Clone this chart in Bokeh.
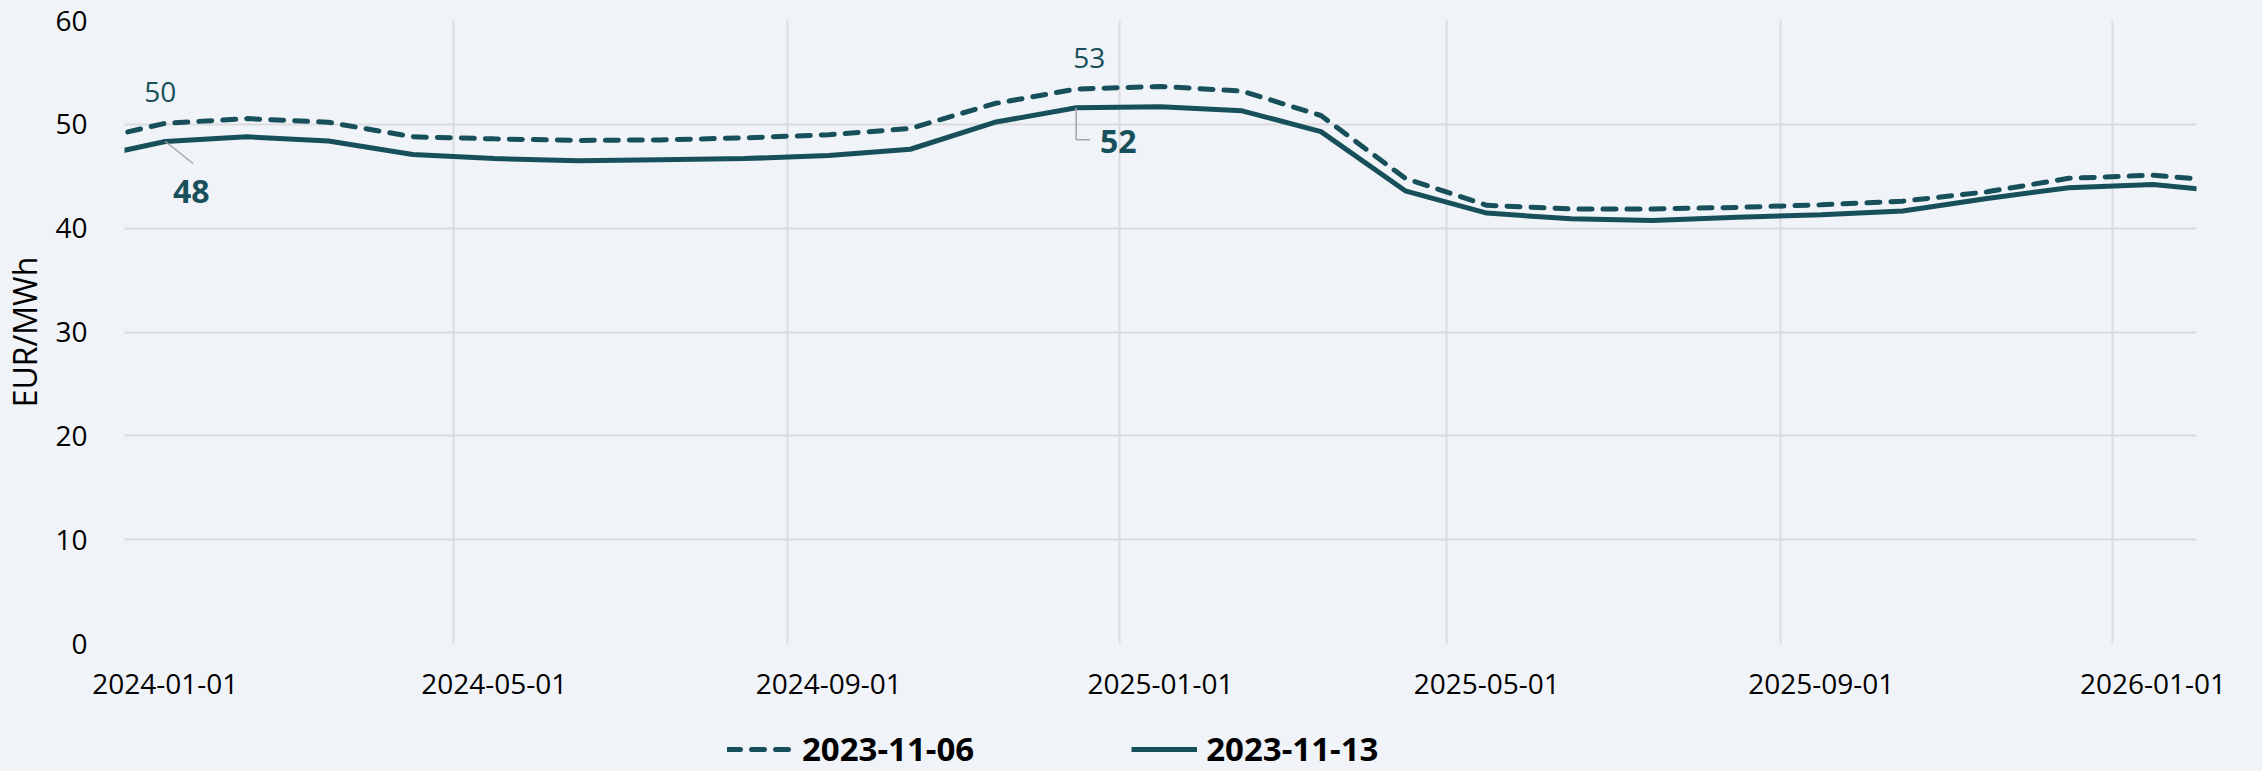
from datetime import datetime, timedelta
from bokeh.plotting import figure
from bokeh.layouts import column
from bokeh.models import Range1d, FixedTicker, Legend, LegendItem, ColumnDataSource
from bokeh.core.properties import value
from bokeh.embed import file_html
from bokeh.resources import INLINE

# ---------------- data ----------------
dates = ["2023-12-16", "2024-01-16", "2024-02-15", "2024-03-16", "2024-04-16", "2024-05-16",
         "2024-06-16", "2024-07-16", "2024-08-16", "2024-09-16", "2024-10-16", "2024-11-16",
         "2024-12-16", "2025-01-16", "2025-02-15", "2025-03-16", "2025-04-16", "2025-05-16",
         "2025-06-16", "2025-07-16", "2025-08-16", "2025-09-16", "2025-10-16", "2025-11-16",
         "2025-12-16", "2026-01-16", "2026-02-15"]
series_names = ["2023-11-06", "2023-11-13"]
values_1106 = [48.25, 50.1, 50.55, 50.2, 48.8, 48.6, 48.45, 48.5, 48.7, 49.0, 49.6, 52.0,
               53.4, 53.65, 53.2, 50.85, 44.8, 42.2, 41.85, 41.85, 42.0, 42.25, 42.6, 43.5,
               44.8, 45.1, 44.45]
values_1113 = [46.6, 48.35, 48.8, 48.4, 47.1, 46.7, 46.5, 46.6, 46.7, 47.0, 47.6, 50.2,
               51.6, 51.7, 51.3, 49.3, 43.6, 41.45, 40.9, 40.75, 41.05, 41.3, 41.65, 42.85,
               43.9, 44.2, 43.45]
tick_labels = ["2024-01-01", "2024-05-01", "2024-09-01", "2025-01-01", "2025-05-01",
               "2025-09-01", "2026-01-01"]
y_ticks = [0, 10, 20, 30, 40, 50, 60]
annot_idx = [1, 12]
x_start, x_end = "2024-01-01", "2026-02-01"
y_label = "EUR/MWh"

# ---------------- style ----------------
BG = "#F0F3F7"
TEAL = "#17505A"
GRID = "#D9DCDF"
FONT = "Open Sans"

W = 2246
H1, H2 = 708, 63
LEFT, RIGHT, TOP, BOTTOM = 112, 50, 20, 65
FW, FH = W - LEFT - RIGHT, H1 - TOP - BOTTOM

EPOCH = datetime(1970, 1, 1)
def to_dt(s):
    return datetime.strptime(s, "%Y-%m-%d")
def to_ms(d):
    return (d - EPOCH).total_seconds() * 1000.0

xs = [to_dt(d) for d in dates]
x0, x1 = to_dt(x_start), to_dt(x_end)
total_days = (x1 - x0).total_seconds() / 86400.0
px_per_day = FW / total_days
px_per_unit = FH / (y_ticks[-1] - y_ticks[0])

p = figure(width=W, height=H1, x_axis_type="datetime", output_backend="svg",
           toolbar_location=None, x_range=Range1d(x0, x1),
           y_range=Range1d(y_ticks[0], y_ticks[-1]),
           min_border_left=LEFT, min_border_right=RIGHT,
           min_border_top=TOP, min_border_bottom=BOTTOM)
p.background_fill_color = BG
p.border_fill_color = BG
p.outline_line_color = None

# grids at month starts, labels at mid-month
grid_ticks = [to_ms(to_dt(t)) for t in tick_labels]
label_ticks = [to_ms(to_dt(t) + timedelta(days=15)) for t in tick_labels]
p.xgrid.ticker = FixedTicker(ticks=grid_ticks)
p.xgrid.grid_line_color = GRID
p.xgrid.grid_line_width = 2
p.ygrid.ticker = FixedTicker(ticks=y_ticks)
p.ygrid.grid_line_color = GRID
p.ygrid.grid_line_width = 2

xa = p.xaxis[0]
xa.ticker = FixedTicker(ticks=label_ticks)
xa.major_label_overrides = {lt: lab for lt, lab in zip(label_ticks, tick_labels)}
ya = p.yaxis[0]
ya.ticker = FixedTicker(ticks=y_ticks)
for ax in (xa, ya):
    ax.axis_line_color = None
    ax.major_tick_line_color = None
    ax.minor_tick_line_color = None
    ax.major_label_text_font = FONT
    ax.major_label_text_font_size = "28px"
    ax.major_label_text_color = "#000000"
xa.major_label_standoff = 24
ya.major_label_standoff = 31
ya.axis_label = y_label
ya.axis_label_text_font = FONT
ya.axis_label_text_font_size = "32px"
ya.axis_label_text_font_style = "normal"
ya.axis_label_text_color = "#000000"
ya.axis_label_standoff = 6

src = ColumnDataSource(dict(x=xs, a=values_1106, b=values_1113))
line_a = dict(line_color=TEAL, line_width=5, line_dash="13 11", line_cap="round")
line_b = dict(line_color=TEAL, line_width=5)
r_a = p.line("x", "a", source=src, **line_a)
r_b = p.line("x", "b", source=src, **line_b)

# annotations (labels derived from the data)
for i in annot_idx:
    xd = xs[i]
    va, vb = values_1106[i], values_1113[i]
    if i == annot_idx[0]:
        off_a, off_b = (-5, -31), (26, 50)
    else:
        off_a, off_b = (13, -31), (42, 34)
    p.text(x=[xd], y=[va], text=[str(int(round(va)))], x_offset=off_a[0], y_offset=off_a[1],
           text_font=value(FONT), text_font_size="28px", text_color=TEAL,
           text_align="center", text_baseline="middle")
    p.text(x=[xd], y=[vb], text=[str(int(round(vb)))], x_offset=off_b[0], y_offset=off_b[1],
           text_font=value(FONT), text_font_size="32px", text_font_style="bold",
           text_color=TEAL, text_align="center", text_baseline="middle")
    if i == annot_idx[0]:
        p.segment(x0=[xd], y0=[vb], x1=[xd + timedelta(days=28 / px_per_day)],
                  y1=[vb - 22 / px_per_unit], line_color="#A6A6A6", line_width=1.5)
    else:
        yk = vb - 32 / px_per_unit
        p.line(x=[xd, xd, xd + timedelta(days=14 / px_per_day)], y=[vb, yk, yk],
               line_color="#A6A6A6", line_width=1.5)

# ---------------- legend strip ----------------
lf = figure(width=W, height=H2, output_backend="svg", toolbar_location=None,
            x_range=Range1d(0, 1), y_range=Range1d(0, 1),
            x_axis_location=None, y_axis_location=None, min_border=0,
            min_border_left=0, min_border_right=0, min_border_top=0, min_border_bottom=0)
lf.grid.visible = False
lf.outline_line_color = None
lf.background_fill_color = BG
lf.border_fill_color = BG
# same series, drawn far outside this strip's ranges; only their legend swatches show
src_l = ColumnDataSource(dict(x=[to_ms(d) for d in xs], a=values_1106, b=values_1113))
la = lf.line("x", "a", source=src_l, **line_a)
lb = lf.line("x", "b", source=src_l, **line_b)
legend = Legend(items=[LegendItem(label=series_names[0], renderers=[la]),
                       LegendItem(label=series_names[1], renderers=[lb])],
                orientation="horizontal", location=(LEFT + 491, 0))
legend.background_fill_alpha = 0
legend.border_line_color = None
legend.padding = 0
legend.margin = 0
legend.spacing = 157
legend.glyph_width = 66
legend.glyph_height = 24
legend.label_height = 24
legend.label_standoff = 9
legend.label_text_font = FONT
legend.label_text_font_size = "33px"
legend.label_text_font_style = "bold"
legend.label_text_color = "#000000"
legend.label_text_baseline = "middle"
lf.add_layout(legend, "center")

layout = column(p, lf, spacing=0)
html = file_html(layout, INLINE)
html = html.replace("<head>", "<head><style>html,body{background:%s;}</style>" % BG, 1)
open("out.html", "w").write(html)
